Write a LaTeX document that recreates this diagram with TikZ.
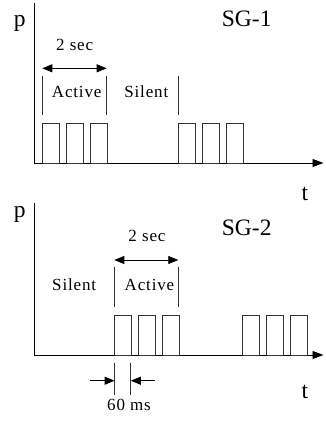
\documentclass[tikz,border=0pt]{standalone}
\usepackage{fontspec}
\setmainfont{Liberation Serif}
\newfontfamily\lblfont[LetterSpace=5]{Liberation Serif}
\usetikzlibrary{arrows.meta}
\tikzset{
  ax/.style={line width=0.9pt, -{Triangle[length=11pt,width=8pt]}},
  axplain/.style={line width=0.9pt},
  pulse/.style={draw=black!80, line width=0.8pt},
  tick/.style={draw=black!80, line width=0.8pt},
  dim/.style={line width=0.8pt, {Triangle[length=10pt,width=8pt]}-{Triangle[length=10pt,width=8pt]}},
  dimone/.style={line width=0.8pt, -{Triangle[length=10pt,width=8pt]}},
  big/.style={inner sep=0pt, font=\fontsize{23.5}{25}\selectfont},
  lbl/.style={inner sep=0pt, font=\lblfont\fontsize{17}{19}\selectfont},
}
\begin{document}
\begin{tikzpicture}[x=1pt,y=-1pt]
\useasboundingbox (0,0) rectangle (326,423);
% ---------- SG-1 ----------
\coordinate (o1) at (34.3,163);
\coordinate (y1) at (34.3,3);
\coordinate (x1) at (323.5,163);
\draw[axplain] (o1) -- (y1);
\draw[ax] (o1) -- (x1);
\node[big, anchor=base] (p1) at (19.7,26) {p};
\node[big, anchor=base] (t1) at (305,200) {t};
\node[big, anchor=base west] (sg1) at (221.7,26.7) {SG-1};
\foreach \s in {42.3,178.7}{
  \foreach \k in {0,1,2}{
    \draw[pulse] (\s+24*\k,163) rectangle (\s+24*\k+17,123);
  }
}
\coordinate (a1t) at (42.3,76);   \coordinate (a1b) at (42.3,115);
\coordinate (b1t) at (106.7,76);  \coordinate (b1b) at (106.7,115);
\coordinate (c1t) at (178.7,76);  \coordinate (c1b) at (178.7,115);
\draw[tick] (a1t) -- (a1b);
\draw[tick] (b1t) -- (b1b);
\draw[tick] (c1t) -- (c1b);
\coordinate (d1l) at (42.3,68.3); \coordinate (d1r) at (106.7,68.3);
\draw[dim] (d1l) -- (d1r);
\node[lbl, anchor=base] (sec1) at (74.7,50) {2 sec};
\node[lbl, anchor=base] (act1) at (76.7,97.3) {Active};
\node[lbl, anchor=base] (sil1) at (146.3,97.3) {Silent};
% ---------- SG-2 ----------
\coordinate (o2) at (34.3,355);
\coordinate (y2) at (34.3,203.3);
\coordinate (x2) at (323.5,355);
\draw[axplain] (o2) -- (y2);
\draw[ax] (o2) -- (x2);
\node[big, anchor=base] (p2) at (19.7,217.5) {p};
\node[big, anchor=base] (t2) at (305,398) {t};
\node[big, anchor=base west] (sg2) at (221.7,235) {SG-2};
\foreach \s in {114.3,242.3}{
  \foreach \k in {0,1,2}{
    \draw[pulse] (\s+24*\k,355) rectangle (\s+24*\k+16.7,315);
  }
}
\coordinate (a2t) at (114.3,266.7); \coordinate (a2b) at (114.3,307.3);
\coordinate (b2t) at (178.3,266.7); \coordinate (b2b) at (178.3,307.3);
\draw[tick] (a2t) -- (a2b);
\draw[tick] (b2t) -- (b2b);
\coordinate (d2l) at (114.3,260); \coordinate (d2r) at (178.3,260);
\draw[dim] (d2l) -- (d2r);
\node[lbl, anchor=base] (sec2) at (147,241.7) {2 sec};
\node[lbl, anchor=base] (sil2) at (74.2,290.7) {Silent};
\node[lbl, anchor=base] (act2) at (149.5,290.7) {Active};
% 60 ms
\coordinate (m1t) at (114.6,362.7); \coordinate (m1b) at (114.6,395);
\coordinate (m2t) at (130.8,362.7); \coordinate (m2b) at (130.8,395);
\draw[tick] (m1t) -- (m1b);
\draw[tick] (m2t) -- (m2b);
\coordinate (ml) at (90,380.7);  \coordinate (mlt) at (114.6,380.7);
\coordinate (mr) at (154.5,380.7); \coordinate (mrt) at (130.8,380.7);
\draw[dimone] (ml) -- (mlt);
\draw[dimone] (mr) -- (mrt);
\node[lbl, anchor=base] (ms) at (129,410) {60 ms};
\end{tikzpicture}
\end{document}
